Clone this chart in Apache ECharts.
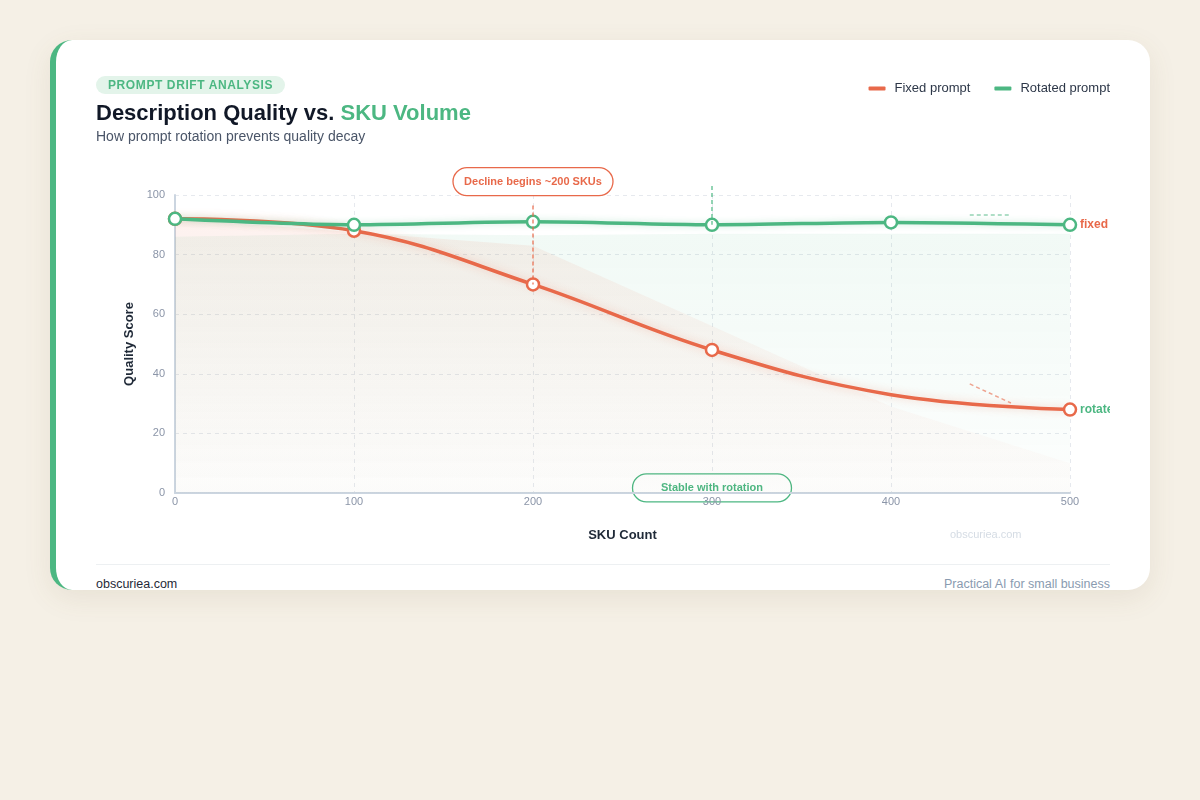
<!DOCTYPE html>
<html>
<head>
<meta charset="utf-8">
<title>Description Quality vs. SKU Volume</title>
<script src="https://cdn.jsdelivr.net/npm/echarts@6/dist/echarts.min.js"></script>
<style>
  html, body { margin: 0; padding: 0; background: #f5f0e6; font-family: "Liberation Sans", Arial, sans-serif; }
  .card {
    position: absolute; left: 50px; top: 40px; width: 1094px; height: 550px;
    background: #fff; border-radius: 22px; border-left: 6px solid #4cb782;
    box-shadow: 0 8px 28px rgba(120, 100, 60, 0.10); overflow: hidden;
  }
  .pill {
    position: absolute; left: 40px; top: 36px; height: 18px; line-height: 18px;
    padding: 0 12px; border-radius: 9px; background: #e3f4ea; color: #4cb782;
    font-size: 12px; font-weight: bold; letter-spacing: 0.6px;
  }
  .title { position: absolute; left: 40px; top: 60px; font-size: 22px; font-weight: bold; color: #111827; }
  .title span { color: #4cb782; }
  .sub { position: absolute; left: 40px; top: 88px; font-size: 14px; color: #4a5568; }
  #chart { position: absolute; left: 40px; top: 20px; width: 1014px; height: 495px; }
  .rule { position: absolute; left: 40px; top: 524px; width: 1014px; height: 1px; background: #edf0f2; }
  .foot-l { position: absolute; left: 40px; top: 537px; font-size: 12.5px; color: #1f2937; }
  .foot-r { position: absolute; right: 40px; top: 537px; font-size: 12.5px; color: #8a9bb0; }
</style>
</head>
<body>
<div class="card">
  <div id="chart"></div>
  <div class="pill">PROMPT DRIFT ANALYSIS</div>
  <div class="title">Description Quality vs. <span>SKU Volume</span></div>
  <div class="sub">How prompt rotation prevents quality decay</div>
  <div class="rule"></div>
  <div class="foot-l">obscuriea.com</div>
  <div class="foot-r">Practical AI for small business</div>
</div>
<script>
// data
const skuCounts = [0, 100, 200, 300, 400, 500];
const fixedScores = [92, 88, 70, 48, 33, 28];
const rotatedScores = [92, 90, 91, 90, 90.8, 90];
// shaded bands under the lines (straight polygons in the original)
const fixedBand = [92, 87.5, 83, 56, 29, 10];
const rotatedBand = [86, 87, 86.5, 87, 87, 87];
const yTicks = { min: 0, max: 100, interval: 20 };
const xTicks = { min: 0, max: 500, interval: 100 };

// annotation anchors, in data units
const declineNote = { text: "Decline begins ~200 SKUs", at: [200, 104.5], from: [200, 96.5], to: [200, 70] };
const stableNote = { text: "Stable with rotation", at: [300, 1.7], from: [300, 103], to: [300, 90] };
const trendFlat = [[444, 93.3], [467, 93.3]];
const trendDrop = [[444, 36.6], [467, 30.2]];

const ORANGE = "#e8694a";
const GREEN = "#4cb782";

const pairs = (ys) => skuCounts.map((x, i) => [x, ys[i]]);

const grad = (r, g, b, top, bottom) => new echarts.graphic.LinearGradient(0, 0, 0, 1, [
  { offset: 0, color: `rgba(${r},${g},${b},${top})` },
  { offset: 1, color: `rgba(${r},${g},${b},${bottom})` }
]);

let chart = echarts.init(document.getElementById("chart"));

let option = {
  animation: false,
  textStyle: { fontFamily: "Liberation Sans, Arial, sans-serif" },
  grid: { left: 79, right: 40, top: 135, bottom: 62 },
  legend: {
    top: 22,
    right: 0,
    padding: 0,
    itemWidth: 17,
    itemHeight: 4,
    itemGap: 24,
    icon: "roundRect",
    textStyle: { color: "#2d3748", fontSize: 13, padding: [0, 0, 0, 4] },
    data: [
      { name: "Fixed prompt", itemStyle: { color: ORANGE, borderWidth: 0 } },
      { name: "Rotated prompt", itemStyle: { color: GREEN, borderWidth: 0 } }
    ]
  },
  xAxis: {
    type: "value",
    min: xTicks.min,
    max: xTicks.max,
    interval: xTicks.interval,
    name: "SKU Count",
    nameLocation: "middle",
    nameGap: 36,
    nameTextStyle: { color: "#1f2937", fontSize: 13, fontWeight: "bold" },
    axisLine: { lineStyle: { color: "#cbd5e0", width: 2 } },
    axisTick: { show: false },
    axisLabel: { color: "#8b95a8", fontSize: 11, margin: 3 },
    splitLine: { show: true, lineStyle: { color: "#e6e9ee", type: [4, 4] } }
  },
  yAxis: {
    type: "value",
    min: yTicks.min,
    max: yTicks.max,
    interval: yTicks.interval,
    name: "Quality Score",
    nameLocation: "middle",
    nameGap: 37,
    nameTextStyle: { color: "#1f2937", fontSize: 13, fontWeight: "bold" },
    axisLine: { show: true, lineStyle: { color: "#cbd5e0", width: 2 } },
    axisTick: { show: false },
    axisLabel: { color: "#8b95a8", fontSize: 11, margin: 10 },
    splitLine: { show: true, lineStyle: { color: "#e6e9ee", type: [4, 4] } }
  },
  series: [
    {
      name: "rotated band",
      type: "line",
      data: pairs(rotatedBand),
      symbol: "none",
      silent: true,
      lineStyle: { width: 0 },
      areaStyle: { color: grad(76, 183, 130, 0.11, 0.02) },
      z: 1
    },
    {
      name: "fixed band",
      type: "line",
      data: pairs(fixedBand),
      symbol: "none",
      silent: true,
      lineStyle: { width: 0 },
      areaStyle: { color: grad(232, 105, 74, 0.13, 0.02) },
      z: 1
    },
    {
      name: "Fixed prompt",
      type: "line",
      data: pairs(fixedScores).map((p, i) => (i === 4 ? { value: p, symbol: "none" } : p)),
      smooth: 0.4,
      symbol: "circle",
      symbolSize: 12,
      itemStyle: { color: "#fff", borderColor: ORANGE, borderWidth: 2.5 },
      lineStyle: { color: ORANGE, width: 3.5, shadowColor: "rgba(232,105,74,0.3)", shadowBlur: 8 },
      endLabel: {
        show: true,
        formatter: "rotated",
        color: GREEN,
        fontSize: 12,
        fontWeight: "bold",
        distance: 10
      },
      z: 3
    },
    {
      name: "Rotated prompt",
      type: "line",
      data: pairs(rotatedScores),
      smooth: 0.3,
      symbol: "circle",
      symbolSize: 12,
      itemStyle: { color: "#fff", borderColor: GREEN, borderWidth: 2.5 },
      lineStyle: { color: GREEN, width: 3.5, shadowColor: "rgba(76,183,130,0.3)", shadowBlur: 6 },
      endLabel: {
        show: true,
        formatter: "fixed",
        color: ORANGE,
        fontSize: 12,
        fontWeight: "bold",
        distance: 10
      },
      z: 4
    }
  ]
};

chart.setOption(option);

// annotations placed through the chart's own coordinate conversion
function px(p) {
  return chart.convertToPixel({ gridIndex: 0 }, p);
}

function dashed(a, b, color, z) {
  const p1 = px(a), p2 = px(b);
  return {
    type: "line",
    z: z || 5,
    silent: true,
    shape: { x1: p1[0], y1: p1[1], x2: p2[0], y2: p2[1] },
    style: { stroke: color, lineWidth: 1.5, lineDash: [4, 3] }
  };
}

function badge(note, color, w) {
  const c = px(note.at);
  return {
    type: "group",
    z: 10,
    silent: true,
    children: [
      {
        type: "rect",
        shape: { x: c[0] - w / 2, y: c[1] - 14, width: w, height: 28, r: 14 },
        style: { fill: "#fff", stroke: color, lineWidth: 1.3 }
      },
      {
        type: "text",
        style: {
          x: c[0], y: c[1], text: note.text, fill: color,
          font: "bold 11px Liberation Sans, Arial, sans-serif",
          textAlign: "center", textVerticalAlign: "middle"
        }
      }
    ]
  };
}

chart.setOption({
  graphic: [
    dashed(declineNote.from, declineNote.to, "rgba(232,105,74,0.8)"),
    dashed(stableNote.from, stableNote.to, "rgba(76,183,130,0.8)"),
    dashed(trendFlat[0], trendFlat[1], "rgba(76,183,130,0.6)"),
    dashed(trendDrop[0], trendDrop[1], "rgba(232,105,74,0.6)"),
    badge(declineNote, ORANGE, 160),
    badge(stableNote, GREEN, 159),
    {
      type: "text",
      silent: true,
      left: 854,
      top: 469,
      style: { text: "obscuriea.com", fill: "#d5dce4", font: "11px Liberation Sans, Arial, sans-serif" }
    }
  ]
});

window.addEventListener("resize", function() {
  if (chart != null && chart != undefined) {
    chart.resize();
  }
});
</script>
</body>
</html>
